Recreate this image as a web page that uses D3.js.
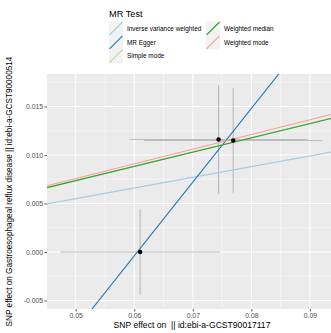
<!DOCTYPE html>
<html>
<head>
<meta charset="utf-8">
<script src="https://cdn.jsdelivr.net/npm/d3@7"></script>
<style>
  html, body { margin: 0; padding: 0; background: #fff; }
  svg { display: block; font-family: "Liberation Sans", Arial, Helvetica, sans-serif; }
  text { white-space: pre; }
</style>
</head>
<body>
<svg id="chart" width="331" height="333"></svg>
<script>
// SNP effects on exposure (x) and outcome (y) with their standard errors
const snpExposure = [0.0610, 0.0744, 0.0769];
const snpOutcome  = [0.0000, 0.0116, 0.0115];
const seExposure  = [0.0136, 0.0152, 0.0152];
const seOutcome   = [0.0044, 0.0056, 0.0054];

// MR method estimates drawn as lines (slope / intercept)
const methods    = ["Inverse variance weighted", "MR Egger", "Simple mode", "Weighted median", "Weighted mode"];
const slopes     = [0.110, 0.760, 0.1472, 0.147, 0.1515];
const intercepts = [0, -0.0460, 0, 0, 0];

// Axis ticks
const xTicks = [0.05, 0.06, 0.07, 0.08, 0.09];
const xTickLabels = ["0.05", "0.06", "0.07", "0.08", "0.09"];
const yTicks = [-0.005, 0, 0.005, 0.010, 0.015];
const yTickLabels = ["-0.005", "0.000", "0.005", "0.010", "0.015"];

const xTitle = "SNP effect on  || id:ebi-a-GCST90017117";
const yTitle = "SNP effect on Gastroesophageal reflux disease || id:ebi-a-GCST90000514";
const legendTitle = "MR Test";

const methodColour = d3.scaleOrdinal()
  .domain(methods)
  .range(["#a6cee3", "#1f78b4", "#b2df8a", "#33a02c", "#fb9a99"]);

const svg = d3.select("#chart");
const panel = { left: 47, top: 74, right: 331, bottom: 309 };

const x = d3.scaleLinear().domain([0.0451, 0.0936]).range([panel.left, panel.right]);
const y = d3.scaleLinear().domain([-0.00588, 0.01835]).range([panel.bottom, panel.top]);

// panel background
svg.append("rect")
  .attr("x", panel.left).attr("y", panel.top)
  .attr("width", panel.right - panel.left).attr("height", panel.bottom - panel.top)
  .attr("fill", "#ebebeb");

svg.append("clipPath").attr("id", "panel-clip")
  .append("rect")
  .attr("x", panel.left).attr("y", panel.top)
  .attr("width", panel.right - panel.left).attr("height", panel.bottom - panel.top);

const grid = svg.append("g").attr("clip-path", "url(#panel-clip)");

// minor grid at midpoints between major ticks
const xMinor = [0.045, 0.055, 0.065, 0.075, 0.085];
const yMinor = [-0.0025, 0.0025, 0.0075, 0.0125, 0.0175];
grid.selectAll(".xminor").data(xMinor).join("line")
  .attr("x1", d => x(d)).attr("x2", d => x(d))
  .attr("y1", panel.top).attr("y2", panel.bottom)
  .attr("stroke", "#fff").attr("stroke-width", 0.5);
grid.selectAll(".yminor").data(yMinor).join("line")
  .attr("y1", d => y(d)).attr("y2", d => y(d))
  .attr("x1", panel.left).attr("x2", panel.right)
  .attr("stroke", "#fff").attr("stroke-width", 0.5);
grid.selectAll(".xmajor").data(xTicks).join("line")
  .attr("x1", d => x(d)).attr("x2", d => x(d))
  .attr("y1", panel.top).attr("y2", panel.bottom)
  .attr("stroke", "#fff").attr("stroke-width", 1);
grid.selectAll(".ymajor").data(yTicks).join("line")
  .attr("y1", d => y(d)).attr("y2", d => y(d))
  .attr("x1", panel.left).attr("x2", panel.right)
  .attr("stroke", "#fff").attr("stroke-width", 1);

const plot = svg.append("g").attr("clip-path", "url(#panel-clip)");

// error bars
const snps = snpExposure.map((bx, i) => ({ bx, by: snpOutcome[i], sx: seExposure[i], sy: seOutcome[i] }));
plot.selectAll(".ebv").data(snps).join("line")
  .attr("x1", d => x(d.bx)).attr("x2", d => x(d.bx))
  .attr("y1", d => y(d.by - d.sy)).attr("y2", d => y(d.by + d.sy))
  .attr("stroke", "#bcbcbc").attr("stroke-width", 1.1);
plot.selectAll(".ebh").data(snps).join("line")
  .attr("y1", d => y(d.by)).attr("y2", d => y(d.by))
  .attr("x1", d => x(d.bx - d.sx)).attr("x2", d => x(d.bx + d.sx))
  .attr("stroke", "#bcbcbc").attr("stroke-width", 1.1);

// method lines
const xd = x.domain();
const fits = methods.map((m, i) => ({ m, a: intercepts[i], b: slopes[i] }));
plot.selectAll(".fit").data(fits).join("line")
  .attr("x1", x(xd[0])).attr("x2", x(xd[1]))
  .attr("y1", d => y(d.a + d.b * xd[0]))
  .attr("y2", d => y(d.a + d.b * xd[1]))
  .attr("stroke", d => methodColour(d.m)).attr("stroke-width", 1.1);

// SNP points
plot.selectAll(".pt").data(snps).join("circle")
  .attr("cx", d => x(d.bx)).attr("cy", d => y(d.by))
  .attr("r", 2.2).attr("fill", "#000");

// axes
const xAxis = svg.append("g").attr("transform", `translate(0,${panel.bottom})`)
  .call(d3.axisBottom(x).tickValues(xTicks).tickFormat((d, i) => xTickLabels[i]).tickSize(2.5).tickPadding(1.5));
const yAxis = svg.append("g").attr("transform", `translate(${panel.left},0)`)
  .call(d3.axisLeft(y).tickValues(yTicks).tickFormat((d, i) => yTickLabels[i]).tickSize(2.5).tickPadding(1.5));
[xAxis, yAxis].forEach(a => {
  a.select(".domain").remove();
  a.selectAll(".tick line").attr("stroke", "#333").attr("stroke-width", 0.8);
  a.selectAll(".tick text").attr("fill", "#4d4d4d").attr("font-size", 6.8)
    .attr("font-family", "'Liberation Sans', Arial, sans-serif");
});

// axis titles
svg.append("text")
  .attr("x", 192).attr("y", 328)
  .attr("text-anchor", "middle").attr("font-size", 8.6).attr("fill", "#000")
  .text(xTitle);
svg.append("text")
  .attr("transform", `translate(12,${(panel.top + panel.bottom) / 2}) rotate(-90)`)
  .attr("text-anchor", "middle").attr("font-size", 8.2).attr("fill", "#000")
  .text(yTitle);

// legend
const legend = svg.append("g");
legend.append("text").attr("x", 109).attr("y", 17)
  .attr("font-size", 9.2).attr("fill", "#000").text(legendTitle);
const keyW = 14, keyH = 14;
const items = methods.map((m, i) => ({ m, col: i < 3 ? 0 : 1, row: i < 3 ? i : i - 3 }));
const colX = [109, 206];
const rowY = [21.5, 35.3, 49.1];
const key = legend.selectAll(".key").data(items).join("g")
  .attr("transform", d => `translate(${colX[d.col]},${rowY[d.row]})`);
key.append("rect").attr("width", keyW).attr("height", keyH).attr("fill", "#f2f2f2");
key.append("line")
  .attr("x1", 0.5).attr("y1", keyH - 0.5).attr("x2", keyW - 0.5).attr("y2", 0.5)
  .attr("stroke", d => methodColour(d.m)).attr("stroke-width", 1.1);
key.append("text")
  .attr("x", keyW + 4).attr("y", keyH / 2 + 2.3)
  .attr("font-size", 6.4).attr("fill", "#000").text(d => d.m);
</script>
</body>
</html>
